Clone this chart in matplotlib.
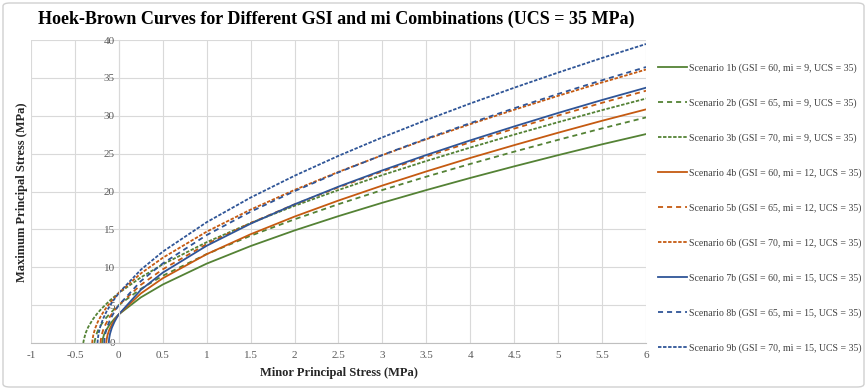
import matplotlib
matplotlib.use('Agg')

import matplotlib.pyplot as plt
from matplotlib.patches import FancyBboxPatch

# Minor principal stress values shared by all curves (sigma3 >= 0)
x_main = [0, 0.25, 0.5, 1, 1.5, 2, 2.5, 3, 3.5, 4, 4.5, 5, 5.5, 6]

# Each scenario: tensile tail (x, y) then sigma1 on x_main
s1b_tail_x = [-0.19, -0.185, -0.17, -0.15, -0.1, -0.05]
s1b_tail_y = [0.0, 0.46, 1.07, 1.60, 2.51, 3.21]
s1b_y = [3.79, 6.02, 7.72, 10.48, 12.80, 14.86, 16.75, 18.52, 20.19, 21.79, 23.32, 24.80, 26.23, 27.58]

s2b_tail_x = [-0.278, -0.275, -0.26, -0.24, -0.2, -0.15, -0.1, -0.05]
s2b_tail_y = [0.0, 0.25, 1.02, 1.61, 2.45, 3.25, 3.91, 4.49]
s2b_y = [5.01, 7.15, 8.88, 11.74, 14.16, 16.33, 18.33, 20.20, 21.96, 23.64, 25.26, 26.82, 28.33, 29.78]

s3b_tail_x = [-0.405, -0.4, -0.38, -0.35, -0.3, -0.25, -0.2, -0.1]
s3b_tail_y = [0.0, 0.33, 1.26, 2.08, 3.06, 3.84, 4.50, 5.64]
s3b_y = [6.61, 8.66, 10.38, 13.31, 15.84, 18.11, 20.20, 22.17, 24.03, 25.80, 27.51, 29.15, 30.74, 32.27]

s4b_tail_x = [-0.143, -0.142, -0.14, -0.13, -0.11, -0.08, -0.04]
s4b_tail_y = [0.0, 0.14, 0.39, 1.01, 1.71, 2.43, 3.18]
s4b_y = [3.79, 6.54, 8.55, 11.73, 14.36, 16.69, 18.81, 20.79, 22.65, 24.43, 26.12, 27.76, 29.34, 30.84]

s5b_tail_x = [-0.2085, -0.205, -0.195, -0.18, -0.15, -0.1, -0.05]
s5b_tail_y = [0.0, 0.44, 1.08, 1.67, 2.50, 3.51, 4.32]
s5b_y = [5.01, 7.68, 9.73, 13.06, 15.84, 18.30, 20.55, 22.65, 24.62, 26.50, 28.30, 30.03, 31.71, 33.30]

s6b_tail_x = [-0.3036, -0.3, -0.29, -0.27, -0.24, -0.2, -0.15, -0.1]
s6b_tail_y = [0.0, 0.42, 1.11, 1.93, 2.79, 3.66, 4.55, 5.31]
s6b_y = [6.61, 9.18, 11.25, 14.70, 17.61, 20.21, 22.59, 24.80, 26.90, 28.89, 30.79, 32.63, 34.40, 36.10]

s7b_tail_x = [-0.1143, -0.113, -0.11, -0.1, -0.08, -0.05, -0.02]
s7b_tail_y = [0.0, 0.29, 0.63, 1.24, 2.00, 2.79, 3.42]
s7b_y = [3.79, 7.02, 9.29, 12.84, 15.75, 18.31, 20.64, 22.79, 24.82, 26.75, 28.59, 30.37, 32.08, 33.70]

s8b_tail_x = [-0.1668, -0.165, -0.16, -0.15, -0.13, -0.1, -0.05]
s8b_tail_y = [0.0, 0.35, 0.85, 1.44, 2.22, 3.07, 4.14]
s8b_y = [5.01, 8.17, 10.51, 14.25, 17.33, 20.05, 22.53, 24.82, 26.98, 29.03, 30.99, 32.88, 34.69, 36.43]

s9b_tail_x = [-0.243, -0.24, -0.23, -0.21, -0.18, -0.14, -0.08]
s9b_tail_y = [0.0, 0.49, 1.30, 2.23, 3.19, 4.16, 5.33]
s9b_y = [6.61, 9.67, 12.06, 15.95, 19.20, 22.08, 24.71, 27.15, 29.44, 31.62, 33.70, 35.70, 37.63, 39.47]

labels = [
    'Scenario 1b (GSI = 60, mi = 9, UCS = 35)',
    'Scenario 2b (GSI = 65, mi = 9, UCS = 35)',
    'Scenario 3b (GSI = 70, mi = 9, UCS = 35)',
    'Scenario 4b (GSI = 60, mi = 12, UCS = 35)',
    'Scenario 5b (GSI = 65, mi = 12, UCS = 35)',
    'Scenario 6b (GSI = 70, mi = 12, UCS = 35)',
    'Scenario 7b (GSI = 60, mi = 15, UCS = 35)',
    'Scenario 8b (GSI = 65, mi = 15, UCS = 35)',
    'Scenario 9b (GSI = 70, mi = 15, UCS = 35)',
]

x_ticks = [-1, -0.5, 0, 0.5, 1, 1.5, 2, 2.5, 3, 3.5, 4, 4.5, 5, 5.5, 6]
y_ticks = [0, 5, 10, 15, 20, 25, 30, 35, 40]

series = [
    (s1b_tail_x, s1b_tail_y, s1b_y), (s2b_tail_x, s2b_tail_y, s2b_y), (s3b_tail_x, s3b_tail_y, s3b_y),
    (s4b_tail_x, s4b_tail_y, s4b_y), (s5b_tail_x, s5b_tail_y, s5b_y), (s6b_tail_x, s6b_tail_y, s6b_y),
    (s7b_tail_x, s7b_tail_y, s7b_y), (s8b_tail_x, s8b_tail_y, s8b_y), (s9b_tail_x, s9b_tail_y, s9b_y),
]

green, orange, blue = '#548235', '#C55A11', '#2F5597'
colors = [green] * 3 + [orange] * 3 + [blue] * 3
styles = [None, (0, (2.8, 2.2)), (0, (1.9, 0.9))] * 3

plt.rcParams['font.family'] = ['Liberation Serif', 'DejaVu Serif']

fig = plt.figure(figsize=(8.67, 3.9), dpi=100)
ax = fig.add_axes([31 / 867, 1 - 343 / 390, (646 - 31) / 867, (343 - 40) / 390])

for (tx, ty, my), c, ls, lab in zip(series, colors, styles, labels):
    line, = ax.plot(tx + x_main, ty + my, color=c, lw=1.3, label=lab)
    if ls is not None:
        line.set_linestyle(ls)

ax.set_xlim(-1, 6)
ax.set_ylim(0, 40)
ax.set_xticks(x_ticks)
ax.set_xticklabels([f'{t:g}' for t in x_ticks])
ax.set_yticks(y_ticks)
ax.set_yticklabels([str(t) for t in y_ticks])
ax.grid(True, color='#D9D9D9', lw=0.8)
ax.set_axisbelow(True)

# vertical axis crosses at x = 0, like the spreadsheet chart
ax.spines['left'].set_position(('data', 0))
ax.spines['left'].set_color('#D9D9D9')
ax.spines['bottom'].set_color('#BFBFBF')
ax.spines['top'].set_visible(False)
ax.spines['right'].set_visible(False)
ax.tick_params(length=0, labelsize=8, colors='#595959', pad=6)
ax.tick_params(axis='y', pad=3)

ax.set_xlabel('Minor Principal Stress (MPa)', fontsize=9, fontweight='bold', color='#262626', labelpad=5)
fig.text(22 / 867, 1 - 192 / 390, 'Maximum Principal Stress (MPa)', rotation=90, fontsize=9,
         fontweight='bold', color='#262626', ha='center', va='center')

fig.text(336 / 867, 1 - 19 / 390, 'Hoek-Brown Curves for Different GSI and mi Combinations (UCS = 35 MPa)',
         fontsize=13, fontweight='bold', ha='center', va='center', color='black')

leg = fig.legend(loc='center left', bbox_to_anchor=(653 / 867, 1 - 208 / 390), frameon=False,
                 fontsize=7.1, labelspacing=2.58, handlelength=2.9, handletextpad=0.3, borderpad=0)
for t in leg.get_texts():
    t.set_color('#404040')

fig.patches.append(FancyBboxPatch((3 / 867, 3 / 390), 861 / 867, 384 / 390,
                                  boxstyle='round,pad=0,rounding_size=0.008', transform=fig.transFigure,
                                  fill=False, edgecolor='#D0D0D0', lw=1.0))

fig.savefig('out.png', dpi=100)
